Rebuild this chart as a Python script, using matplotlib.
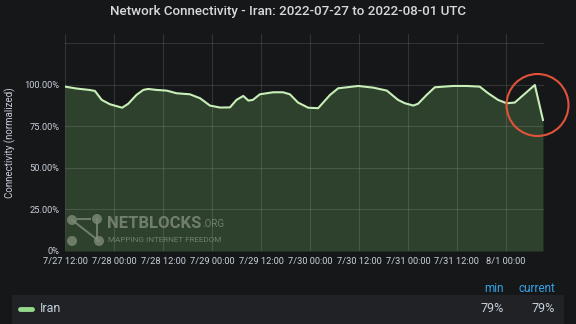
import numpy as np
import pandas as pd
import matplotlib
matplotlib.use("Agg")
import matplotlib.pyplot as plt
from matplotlib.patches import Ellipse, Rectangle
from matplotlib.lines import Line2D

plt.rcParams['font.family'] = ['Roboto', 'DejaVu Sans']

times = [
    "2022-07-27 12:00", "2022-07-27 15:00", "2022-07-27 18:00", "2022-07-27 19:20",
    "2022-07-27 21:00", "2022-07-27 23:00", "2022-07-28 02:00", "2022-07-28 03:30",
    "2022-07-28 05:30", "2022-07-28 07:10", "2022-07-28 08:20", "2022-07-28 10:30",
    "2022-07-28 12:55", "2022-07-28 15:20", "2022-07-28 18:35", "2022-07-28 21:05",
    "2022-07-28 23:30", "2022-07-29 02:00", "2022-07-29 04:25", "2022-07-29 06:00",
    "2022-07-29 07:40", "2022-07-29 08:55", "2022-07-29 10:00", "2022-07-29 11:45",
    "2022-07-29 15:00", "2022-07-29 17:25", "2022-07-29 19:05", "2022-07-29 21:05",
    "2022-07-29 23:35", "2022-07-30 02:00", "2022-07-30 04:55", "2022-07-30 06:55",
    "2022-07-30 11:50", "2022-07-30 15:30", "2022-07-30 18:50", "2022-07-30 21:35",
    "2022-07-30 23:15", "2022-07-31 01:20", "2022-07-31 02:30", "2022-07-31 04:35",
    "2022-07-31 06:35", "2022-07-31 11:05", "2022-07-31 14:25", "2022-07-31 17:35",
    "2022-07-31 19:40", "2022-07-31 22:05", "2022-08-01 00:10", "2022-08-01 02:10",
    "2022-08-01 07:05", "2022-08-01 09:05",
]
connectivity = [
    99.0, 97.8, 97.0, 96.4, 91.0, 88.4, 86.3, 88.7,
    94.0, 97.0, 97.6, 97.0, 96.6, 95.0, 94.4, 92.0,
    87.6, 86.4, 86.5, 91.0, 93.4, 90.6, 91.0, 94.4,
    95.6, 95.6, 94.4, 89.4, 86.3, 86.0, 94.0, 98.0,
    99.4, 98.4, 96.6, 91.0, 89.0, 87.6, 88.7, 94.0,
    98.6, 99.4, 99.4, 99.0, 95.0, 91.0, 89.0, 89.4,
    100.0, 78.9,
]
x_ticks = ["2022-07-27 12:00", "2022-07-28 00:00", "2022-07-28 12:00", "2022-07-29 00:00",
           "2022-07-29 12:00", "2022-07-30 00:00", "2022-07-30 12:00", "2022-07-31 00:00",
           "2022-07-31 12:00", "2022-08-01 00:00"]
y_ticks = [0, 25, 50, 75, 100, 125]
y_labels = ["0%", "25.00%", "50.00%", "75.00%", "100.00%", ""]
series_name = "Iran"
stat_min = "79%"
stat_current = "79%"

bg = "#161719"
text_col = "#c7d0d9"

t = pd.to_datetime(times)
v = np.array(connectivity)
xt = pd.to_datetime(x_ticks)

fig = plt.figure(figsize=(5.76, 3.24), dpi=100, facecolor=bg)
ax = fig.add_axes([65 / 576, 1 - 251 / 324, (544 - 65) / 576, (251 - 34) / 324])
ax.set_facecolor(bg)

ax.fill_between(t, v, 0, color="#76c26a", alpha=0.25, lw=0, zorder=1)
ax.plot(t, v, color="#c9efb9", lw=1.5, zorder=2)

ax.set_xlim(pd.Timestamp("2022-07-27 12:00"), pd.Timestamp("2022-08-01 09:20"))
ax.set_ylim(0, 130.7)
ax.set_yticks(y_ticks)
ax.set_yticklabels(y_labels)
ax.set_xticks(xt)
ax.set_xticklabels([f"{d.month}/{d.day} {d:%H:%M}" for d in xt])
ax.tick_params(colors=text_col, labelsize=6.7, length=0, pad=4)
ax.set_axisbelow("line")
ax.grid(True, color="white", alpha=0.12, lw=0.8)
for s in ax.spines.values():
    s.set_visible(False)
ax.set_ylabel("Connectivity (normalized)", color=text_col, fontsize=7, labelpad=6)

fig.text(0.5, 1 - 11 / 324, "Network Connectivity - Iran: 2022-07-27 to 2022-08-01 UTC",
         ha="center", va="center", color="#d8d9da", fontsize=9.6, fontweight="medium")

# red circle around the drop
fig.add_artist(Ellipse((537.5 / 576, 1 - 105 / 324), 62 / 576, 62 / 324,
                       transform=fig.transFigure, fill=False, ec="#e0533a", lw=1.5))

# watermark
wm = "#7d8a78"
nodes = [(72, 220), (97, 219), (72, 241), (99, 241)]
fig.add_artist(Line2D([72 / 576, 99 / 576], [1 - 220 / 324, 1 - 241 / 324], color=wm, lw=1.5, alpha=0.8))
fig.add_artist(Line2D([97 / 576, 97 / 576], [1 - 219 / 324, 1 - 241 / 324], color=wm, lw=1.5, alpha=0.8))
fig.add_artist(Line2D([78 / 576, 90 / 576], [1 - 219 / 324, 1 - 219 / 324], color=wm, lw=1.5, alpha=0.8))
for (px, py) in nodes:
    fig.add_artist(Ellipse((px / 576, 1 - py / 324), 10 / 576, 10 / 324,
                           transform=fig.transFigure, color=wm, alpha=0.8, lw=0))
nb = fig.text(107 / 576, 1 - 223 / 324, "NETBLOCKS", fontweight="bold", fontsize=12,
              color=wm, alpha=0.85, va="center", ha="left")
ax.annotate(".ORG", xy=(1, 0.12), xycoords=nb, xytext=(1, 0), textcoords="offset points",
            fontsize=7, color=wm, alpha=0.85, va="bottom", ha="left", annotation_clip=False)
fig.text(108 / 576, 1 - 240 / 324, "MAPPING INTERNET FREEDOM", fontsize=5.9,
         color=wm, alpha=0.85, va="center", ha="left")

# legend table
fig.add_artist(Rectangle((12 / 576, 0), (564 - 12) / 576, 1 - 295 / 324,
                         transform=fig.transFigure, color="#202226", lw=0, zorder=0))
fig.add_artist(Line2D([20 / 576, 32 / 576], [1 - 309 / 324] * 2, color="#96d98d", lw=3.5,
                      solid_capstyle="round"))
fig.text(40 / 576, 1 - 309 / 324, series_name, color=text_col, fontsize=9, va="center")
fig.text(504 / 576, 1 - 288 / 324, "min", color="#33a2e5", fontsize=8.5, va="center", ha="right")
fig.text(555 / 576, 1 - 288 / 324, "current", color="#33a2e5", fontsize=8.5, va="center", ha="right")
fig.text(504 / 576, 1 - 309 / 324, stat_min, color=text_col, fontsize=9, va="center", ha="right")
fig.text(555 / 576, 1 - 309 / 324, stat_current, color=text_col, fontsize=9, va="center", ha="right")

fig.savefig("out.png", dpi=100, facecolor=bg)
